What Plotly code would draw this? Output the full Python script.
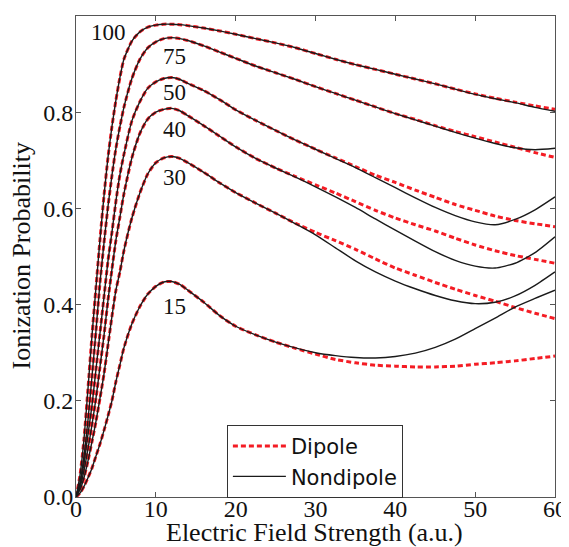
import plotly.graph_objects as go

field = [0, 0.5, 1, 1.5, 2, 2.5, 3, 3.5, 4, 4.5, 5, 5.5, 6, 7, 8, 9, 10, 11, 12, 13, 14,
         16, 18, 20, 22.5, 25, 27.5, 30, 32.5, 35, 37.5, 40, 42.5, 45, 47.5, 50, 52.5, 55, 57.5, 60]

nd_100 = [0, 0.045, 0.12, 0.225, 0.335, 0.435, 0.534, 0.625, 0.705, 0.77, 0.825, 0.872, 0.91, 0.948, 0.967, 0.977, 0.981, 0.983, 0.983, 0.982, 0.98,
          0.975, 0.969, 0.962, 0.953, 0.944, 0.934, 0.922, 0.91, 0.899, 0.889, 0.879, 0.869, 0.859, 0.848, 0.837, 0.828, 0.82, 0.81, 0.802]
d_100 = [0, 0.045, 0.12, 0.225, 0.335, 0.435, 0.534, 0.625, 0.705, 0.77, 0.825, 0.872, 0.91, 0.948, 0.967, 0.977, 0.981, 0.983, 0.983, 0.982, 0.98,
         0.975, 0.969, 0.962, 0.953, 0.944, 0.934, 0.922, 0.91, 0.899, 0.889, 0.879, 0.869, 0.859, 0.848, 0.838, 0.829, 0.821, 0.813, 0.806]

nd_75 = [0, 0.03, 0.085, 0.16, 0.25, 0.345, 0.445, 0.527, 0.603, 0.668, 0.725, 0.77, 0.81, 0.87, 0.91, 0.934, 0.946, 0.953, 0.955, 0.953, 0.949,
         0.938, 0.925, 0.912, 0.896, 0.882, 0.868, 0.853, 0.839, 0.825, 0.811, 0.797, 0.784, 0.771, 0.758, 0.746, 0.735, 0.726, 0.722, 0.725]
d_75 = [0, 0.03, 0.085, 0.16, 0.25, 0.345, 0.445, 0.527, 0.603, 0.668, 0.725, 0.77, 0.81, 0.87, 0.91, 0.934, 0.946, 0.953, 0.955, 0.953, 0.949,
        0.938, 0.925, 0.912, 0.896, 0.882, 0.868, 0.853, 0.839, 0.825, 0.811, 0.797, 0.785, 0.772, 0.76, 0.749, 0.738, 0.727, 0.716, 0.706]

nd_50 = [0, 0.025, 0.07, 0.13, 0.19, 0.265, 0.34, 0.415, 0.49, 0.55, 0.615, 0.67, 0.712, 0.782, 0.822, 0.85, 0.863, 0.87, 0.872, 0.868, 0.86,
         0.845, 0.826, 0.805, 0.783, 0.762, 0.742, 0.723, 0.704, 0.685, 0.664, 0.643, 0.622, 0.602, 0.585, 0.572, 0.566, 0.577, 0.597, 0.624]
d_50 = [0, 0.025, 0.07, 0.13, 0.19, 0.265, 0.34, 0.415, 0.49, 0.55, 0.615, 0.67, 0.712, 0.782, 0.822, 0.85, 0.863, 0.87, 0.872, 0.868, 0.86,
        0.845, 0.826, 0.805, 0.783, 0.762, 0.742, 0.723, 0.705, 0.687, 0.669, 0.654, 0.638, 0.623, 0.608, 0.596, 0.584, 0.575, 0.568, 0.562]

nd_40 = [0, 0.02, 0.055, 0.1, 0.15, 0.205, 0.27, 0.335, 0.408, 0.473, 0.534, 0.582, 0.63, 0.705, 0.756, 0.786, 0.8, 0.806, 0.808, 0.803, 0.793,
         0.772, 0.75, 0.728, 0.704, 0.684, 0.665, 0.645, 0.624, 0.602, 0.578, 0.555, 0.532, 0.51, 0.492, 0.48, 0.476, 0.486, 0.508, 0.541]
d_40 = [0, 0.02, 0.055, 0.1, 0.15, 0.205, 0.27, 0.335, 0.408, 0.473, 0.534, 0.582, 0.63, 0.705, 0.756, 0.786, 0.8, 0.806, 0.808, 0.803, 0.793,
        0.772, 0.75, 0.728, 0.704, 0.684, 0.666, 0.649, 0.632, 0.614, 0.596, 0.58, 0.566, 0.553, 0.538, 0.524, 0.512, 0.502, 0.494, 0.486]

nd_30 = [0, 0.015, 0.04, 0.075, 0.115, 0.157, 0.205, 0.255, 0.315, 0.375, 0.43, 0.468, 0.512, 0.58, 0.632, 0.672, 0.695, 0.705, 0.708, 0.704, 0.695,
         0.675, 0.653, 0.633, 0.611, 0.59, 0.568, 0.545, 0.518, 0.491, 0.468, 0.449, 0.433, 0.419, 0.408, 0.402, 0.405, 0.418, 0.44, 0.468]
d_30 = [0, 0.015, 0.04, 0.075, 0.115, 0.157, 0.205, 0.255, 0.315, 0.375, 0.43, 0.468, 0.512, 0.58, 0.632, 0.672, 0.695, 0.705, 0.708, 0.704, 0.695,
        0.675, 0.653, 0.633, 0.611, 0.59, 0.569, 0.55, 0.533, 0.515, 0.495, 0.476, 0.461, 0.446, 0.432, 0.419, 0.407, 0.394, 0.382, 0.371]

nd_15 = [0, 0.008, 0.022, 0.04, 0.06, 0.085, 0.11, 0.138, 0.168, 0.2, 0.24, 0.275, 0.31, 0.36, 0.396, 0.422, 0.438, 0.447, 0.448, 0.442, 0.43,
         0.405, 0.377, 0.355, 0.337, 0.322, 0.31, 0.3, 0.294, 0.29, 0.289, 0.292, 0.299, 0.311, 0.328, 0.35, 0.372, 0.395, 0.413, 0.43]
d_15 = [0, 0.008, 0.022, 0.04, 0.06, 0.085, 0.11, 0.138, 0.168, 0.2, 0.24, 0.275, 0.31, 0.36, 0.396, 0.422, 0.438, 0.447, 0.448, 0.442, 0.43,
        0.405, 0.377, 0.355, 0.337, 0.322, 0.309, 0.297, 0.286, 0.279, 0.274, 0.272, 0.2705, 0.2705, 0.272, 0.276, 0.279, 0.283, 0.288, 0.293]

dipole_series = [d_100, d_75, d_50, d_40, d_30, d_15]
nondipole_series = [nd_100, nd_75, nd_50, nd_40, nd_30, nd_15]

curve_labels = ["100", "75", "50", "40", "30", "15"]
label_x = [4.1, 12.3, 12.3, 12.3, 12.3, 12.3]
label_y = [0.965, 0.916, 0.840, 0.764, 0.665, 0.396]

x_ticks = [0, 10, 20, 30, 40, 50, 60]
y_ticks = [0.0, 0.2, 0.4, 0.6, 0.8, 1.0]

fig = go.Figure()

for i, ys in enumerate(dipole_series):
    fig.add_trace(go.Scatter(
        x=field, y=ys, mode="lines", name="Dipole",
        legendgroup="dipole", showlegend=(i == 0),
        line=dict(color="#f41c24", width=3, dash="5px,3px", shape="spline", smoothing=0.6),
    ))

for i, ys in enumerate(nondipole_series):
    fig.add_trace(go.Scatter(
        x=field, y=ys, mode="lines", name="Nondipole",
        legendgroup="nondipole", showlegend=(i == 0),
        line=dict(color="#1a1a1a", width=1.4, shape="spline", smoothing=0.6),
    ))

for t, lx, ly in zip(curve_labels, label_x, label_y):
    fig.add_annotation(x=lx, y=ly, text=t, showarrow=False,
                       font=dict(family="Liberation Serif", size=23, color="#111"))

# axis titles
fig.add_annotation(xref="paper", yref="paper", x=0.497, y=0, yshift=-35, yanchor="middle",
                   text="Electric Field Strength (a.u.)", showarrow=False,
                   font=dict(family="Liberation Serif", size=26, color="#111"))
fig.add_annotation(xref="paper", yref="paper", x=0, y=0.5, xshift=-55, xanchor="center",
                   textangle=-90, text="Ionization Probability", showarrow=False,
                   font=dict(family="Liberation Serif", size=26, color="#111"))

axis_common = dict(
    showgrid=False, zeroline=False, showline=True, linecolor="#555", linewidth=1,
    mirror="ticks", ticks="inside", ticklen=5, tickcolor="#555", automargin=False,
    tickfont=dict(family="Liberation Serif", size=24, color="#111"),
)

fig.update_xaxes(range=[0, 60], tickvals=x_ticks, ticktext=[str(v) for v in x_ticks],
                 ticklabelstandoff=-10, **axis_common)
fig.update_yaxes(range=[0, 1.0], tickvals=y_ticks, ticktext=[f"{v:.1f}" for v in y_ticks],
                 ticklabelstandoff=-3, **axis_common)

# the page body adds an 8px offset, so the figure is sized/margined to compensate
fig.update_layout(
    width=561, height=539,
    margin=dict(l=68, r=14, t=8, b=50, autoexpand=False),
    paper_bgcolor="white", plot_bgcolor="white",
    legend=dict(x=0.315, y=-0.002, xanchor="left", yanchor="bottom",
                bordercolor="#333", borderwidth=1, bgcolor="white",
                font=dict(family="DejaVu Sans", size=21, color="#111"),
                tracegroupgap=0, itemwidth=53),
    showlegend=True,
)

fig.write_html("out.html")
